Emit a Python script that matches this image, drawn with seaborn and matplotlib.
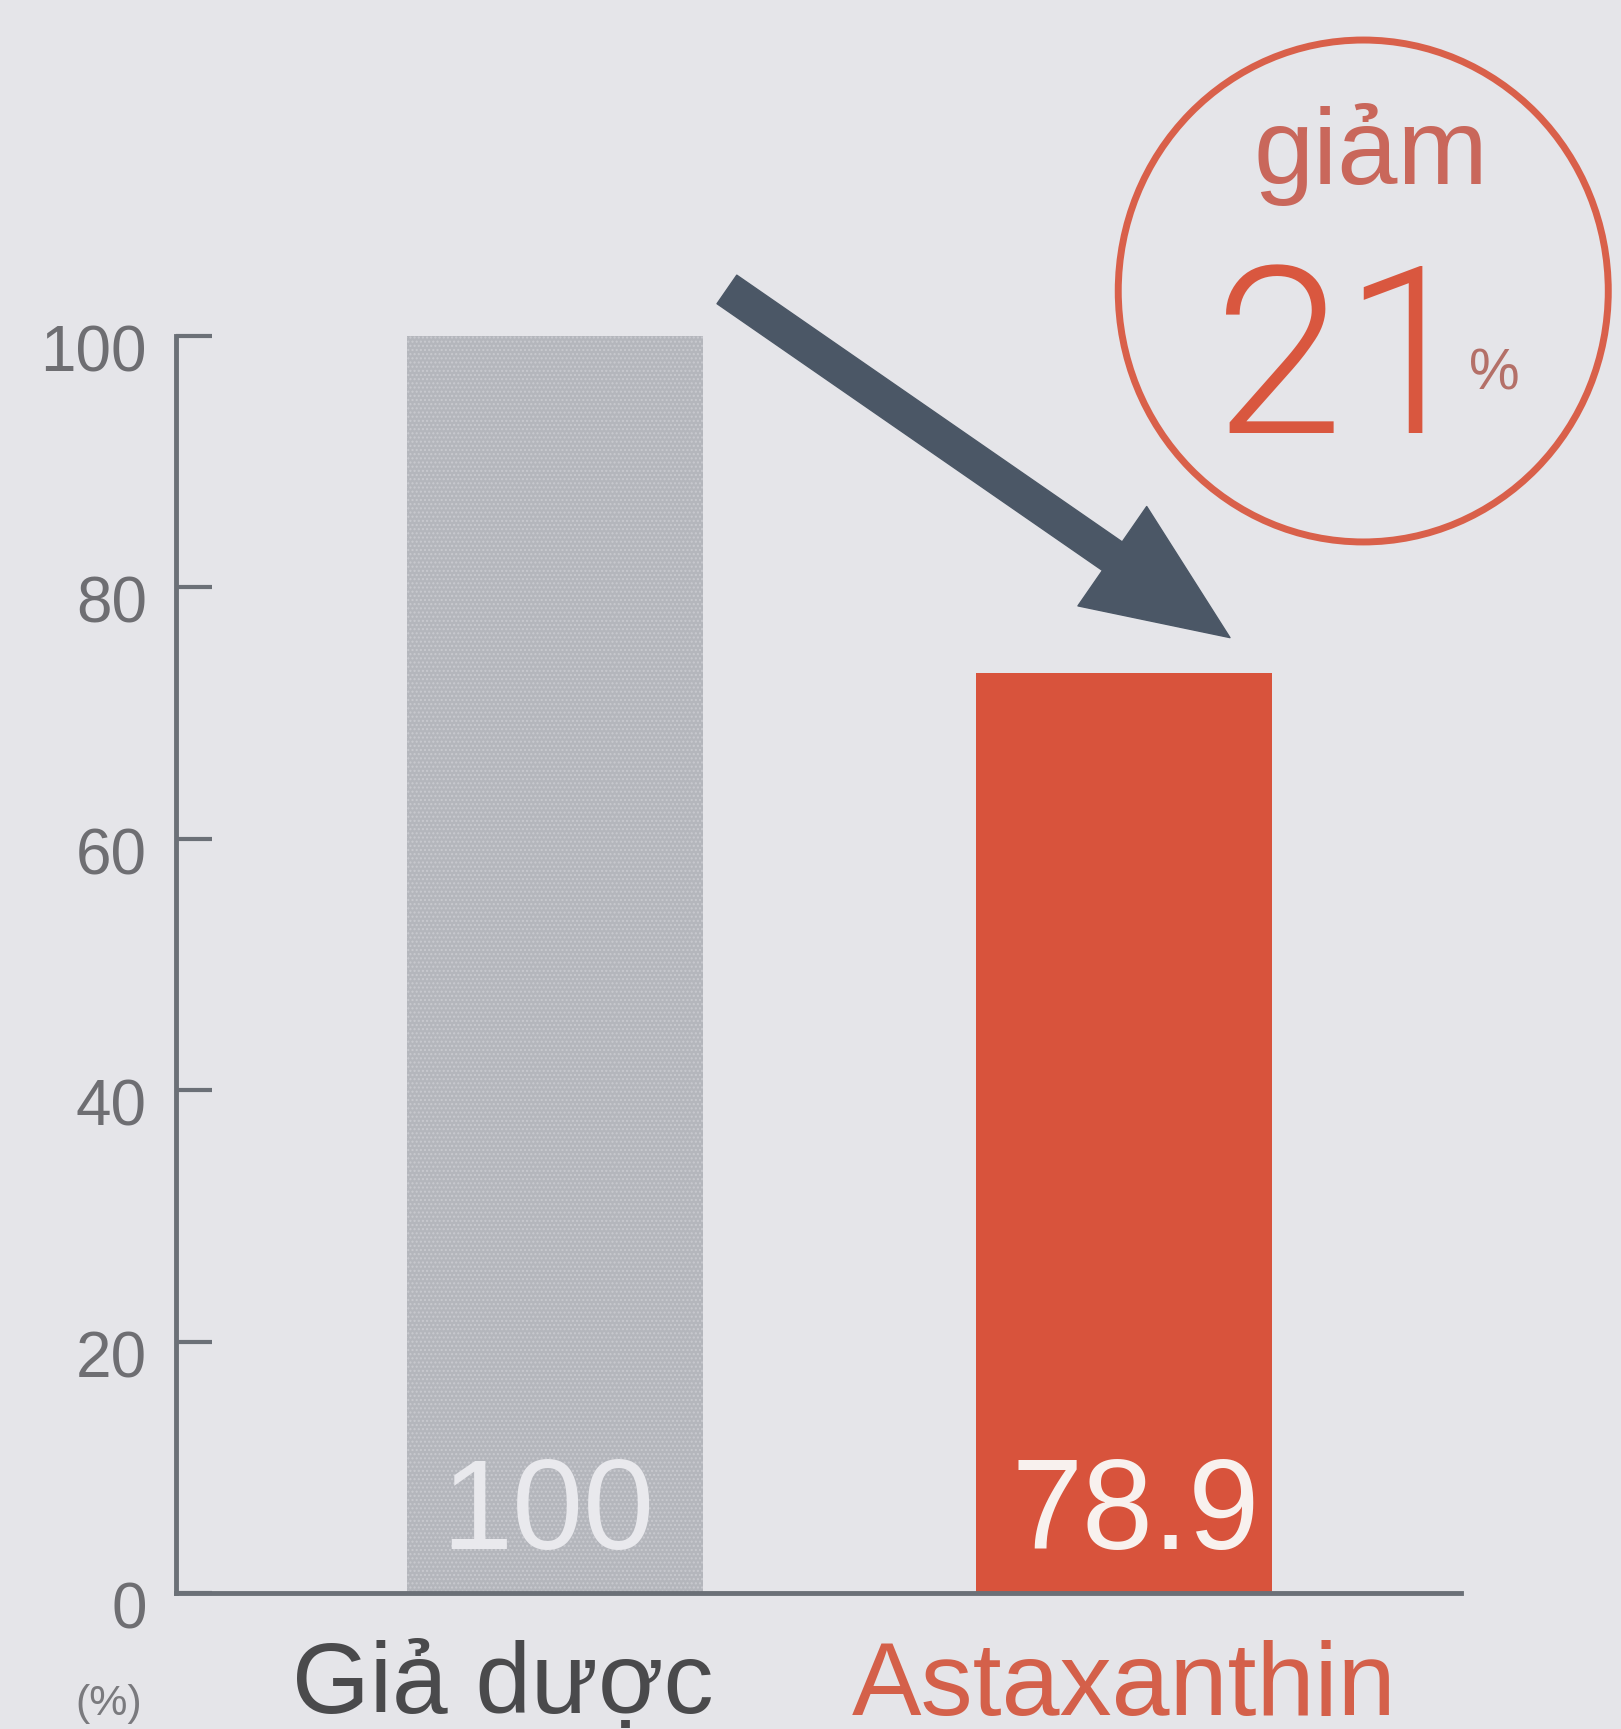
"""
Astaxanthin vs placebo bar chart (percent, placebo = 100)
"""
import matplotlib
matplotlib.use("Agg")
import matplotlib.pyplot as plt
import matplotlib.transforms as mtransforms
from matplotlib.patches import Ellipse
import seaborn as sns

# ----------------------------- #
#  Data
# ----------------------------- #
categories = ["Giả dược", "Astaxanthin"]
bar_heights = [100, 73.2]          # heights as drawn in the picture
bar_labels = ["100", "78.9"]       # values printed on the bars
y_ticks = [0, 20, 40, 60, 80, 100]
badge_word = "giảm"
badge_value = "21"

bg = "#e5e5e9"
bar_colors = ["#b4b6bc", "#d8533c"]
label_colors = ["#4a4a4c", "#d4604a"]
label_sizes = [72, 75]
axis_color = "#6b7077"
red = "#d9573f"

# ----------------------------- #
#  Figure
# ----------------------------- #
sns.set_theme(style="white")
plt.rcParams["font.family"] = ["Liberation Sans", "DejaVu Sans"]

fig = plt.figure(figsize=(16.21, 17.29), dpi=100, facecolor=bg)
ax = fig.add_axes([0.1086, 0.0787, 0.7927, 0.727], facecolor=bg)

sns.barplot(x=categories, y=bar_heights, hue=categories, palette=bar_colors,
            legend=False, width=0.52, saturation=1, ax=ax)
for p in ax.patches:
    p.set_linewidth(0)
ax.patches[0].set_hatch("....")
ax.patches[0].set_edgecolor("#c9cacf")

ax.set_xlim(-0.666, 1.592)
ax.set_ylim(0, 100)
ax.set_yticks(y_ticks)
ax.set_yticklabels([str(t) for t in y_ticks])
ax.tick_params(axis="y", direction="in", length=26, width=3, color=axis_color,
               pad=21, labelsize=46, labelcolor="#6e6e72", left=True)
ax.tick_params(axis="x", length=0, pad=34)
for lab, col, size in zip(ax.get_xticklabels(), label_colors, label_sizes):
    lab.set_color(col)
    lab.set_fontsize(size)

# the placebo label sits a bit left of its bar in the print
shift_left = mtransforms.ScaledTranslation(-52 / 100, 0, fig.dpi_scale_trans)
xlab0 = ax.get_xticklabels()[0]
xlab0.set_transform(xlab0.get_transform() + shift_left)

# shift y tick labels slightly below their ticks, like the print
offset = mtransforms.ScaledTranslation(0, -12 / 100, fig.dpi_scale_trans)
for lab in ax.get_yticklabels():
    lab.set_transform(lab.get_transform() + offset)

sns.despine(ax=ax)
for side in ["left", "bottom"]:
    ax.spines[side].set_color(axis_color)
    ax.spines[side].set_linewidth(3.5)
ax.set_xlabel("")
ax.set_ylabel("")

# values printed at the bottom of the bars
label_x = [-0.012, 1.021]
label_cols = ["#e9e9ed", "#f8f1ee"]
for xi, txt, col in zip(label_x, bar_labels, label_cols):
    ax.text(xi, 3.5, txt, ha="center", va="baseline", fontsize=92,
            color=col, family=["Liberation Sans Narrow", "Liberation Sans"])

# unit label
fig.text(0.067, 0.003, "(%)", ha="center", va="bottom", fontsize=31, color="#7a7a7e")

# ----------------------------- #
#  Arrow and badge
# ----------------------------- #
ax.annotate("", xy=(1.186, 76.0), xytext=(0.302, 103.7),
            arrowprops=dict(arrowstyle="simple,head_length=1.03,head_width=0.87,tail_width=0.25",
                            mutation_scale=100, color="#4b5766", shrinkA=0, shrinkB=0),
            annotation_clip=False)

fig.add_artist(Ellipse((0.841, 0.8317), 0.3023, 0.2903, transform=fig.transFigure,
                       fill=False, edgecolor="#d9604a", linewidth=5))
fig.text(0.846, 1 - 184 / 1729, badge_word, ha="center", va="baseline", fontsize=78,
         color="#c9675b")
fig.text(0.8286, 1 - 433 / 1729, badge_value, ha="center", va="baseline", fontsize=168,
         color=red, family=["Roboto", "Liberation Sans"], fontweight=300)
fig.text(0.906, 1 - 389 / 1729, "%", ha="left", va="baseline", fontsize=41, color="#b47068")

fig.savefig("out.png", dpi=100, facecolor=bg)
